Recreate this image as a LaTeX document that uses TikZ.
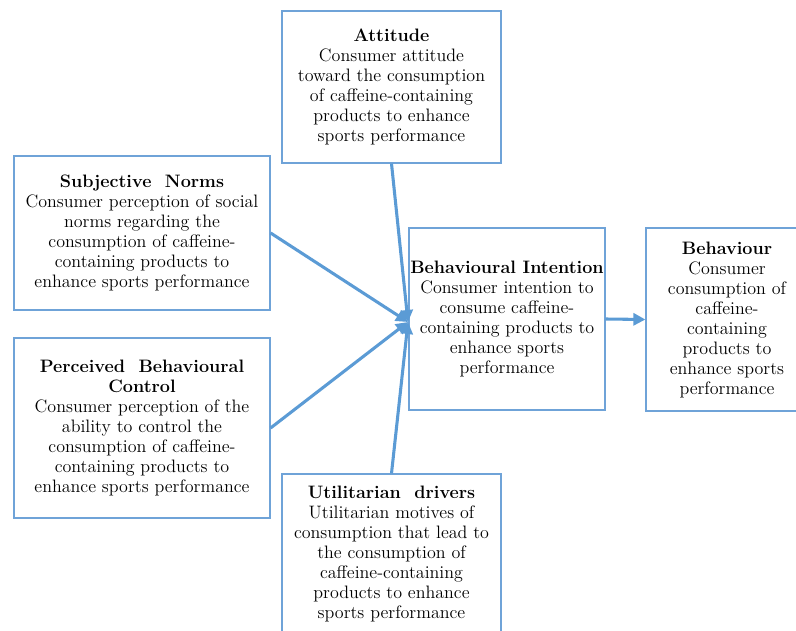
\documentclass[tikz,border=0pt]{standalone}
\usepackage{tikz}
\usetikzlibrary{arrows.meta}
\definecolor{lineblue}{HTML}{5B9BD5}
\definecolor{boxblue}{HTML}{6FA3D8}
\tikzset{
  box/.style={draw=boxblue, line width=0.9pt, fill=white, align=center, inner sep=0pt,
    font=\fontsize{13.5}{15}\selectfont},
  link/.style={draw=lineblue, line width=2.3pt, -{Triangle[length=9pt,width=9pt]}}
}
\begin{document}
\begin{tikzpicture}[x=0.75pt,y=-0.75pt]
\useasboundingbox (0,0) rectangle (796,631);
\clip (0,0) rectangle (796,631);

\node[box, minimum width=219*0.75pt, minimum height=152*0.75pt] (att) at (391.5,87)
  {\textbf{Attitude}\\Consumer attitude\\toward the consumption\\of caffeine-containing\\products to enhance\\sports performance};

\node[box, minimum width=256*0.75pt, minimum height=154*0.75pt] (subj) at (142,233)
  {\textbf{Subjective\ \ Norms}\\Consumer perception of social\\norms regarding the\\consumption of caffeine-\\containing products to\\enhance sports performance};

\node[box, minimum width=256*0.75pt, minimum height=180*0.75pt] (pbc) at (142,428)
  {\textbf{Perceived\ \ Behavioural}\\\textbf{Control}\\Consumer perception of the\\ability to control the\\consumption of caffeine-\\containing products to\\enhance sports performance};

\node[box, minimum width=196*0.75pt, minimum height=182*0.75pt] (bint) at (507,319)
  {\textbf{Behavioural Intention}\\Consumer intention to\\consume caffeine-\\containing products to\\enhance sports\\performance};

\node[box, minimum width=162*0.75pt, minimum height=183*0.75pt] (beh) at (727,319.5)
  {\textbf{Behaviour}\\Consumer\\consumption of\\caffeine-\\containing\\products to\\enhance sports\\performance};

\node[box, minimum width=219*0.75pt, minimum height=160*0.75pt] (util) at (391.5,554)
  {\textbf{Utilitarian\ \ drivers}\\Utilitarian motives of\\consumption that lead to\\the consumption of\\caffeine-containing\\products to enhance\\sports performance};

\coordinate (hub) at (408,322);

\draw[link] (att.south) -- (hub);
\draw[link] (subj.east) -- (hub);
\draw[link] (pbc.east) -- (hub);
\draw[link] (util.north) -- (hub);
\draw[link] (bint.east) -- (beh.west);

\end{tikzpicture}
\end{document}
